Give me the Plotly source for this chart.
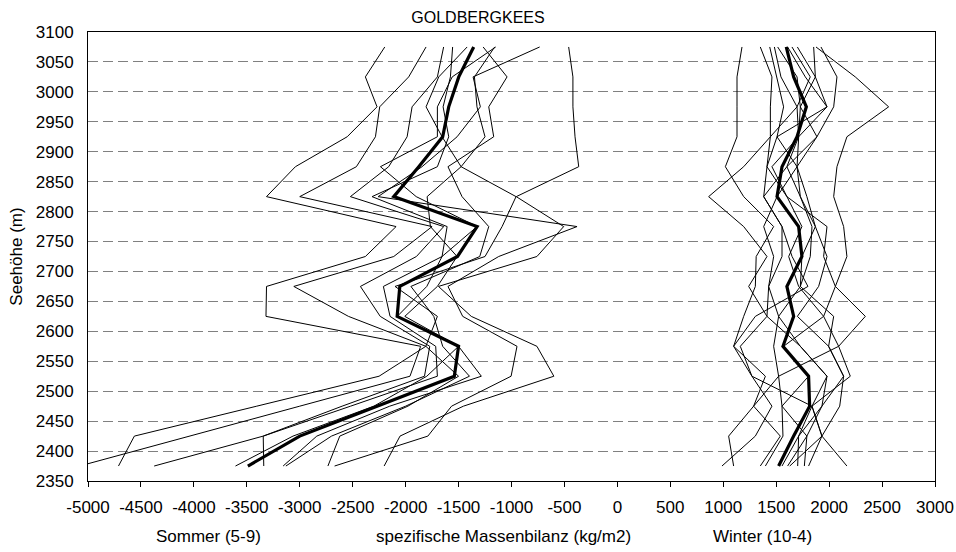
import plotly.graph_objects as go

# elevation band midpoints (m)
levels = [2375, 2425, 2475, 2525, 2575, 2625, 2675, 2725, 2775, 2825, 2875, 2925, 2975, 3025, 3075]

# summer balance profiles (kg/m2), one list per year, bottom -> top
sommer_s1 = [-2203, -2053, -1454, -600, -760, -1380, -1690, -760, -507, -955, -365, -400, -420, -420, -460]
sommer_s2 = [-2671, -1790, -1566, -1004, -948, -1461, -1600, -1121, -381, -2260, -1845, -1514, -1294, -1363, -734]
sommer_s3 = [-5080, -4050, -3000, -1959, -1858, -3319, -3314, -2380, -2090, -3314, -3041, -2552, -2270, -2380, -2197]
sommer_s4 = [-4712, -4562, -3406, -2251, -1809, -2540, -3056, -2112, -1750, -3000, -2465, -2285, -2245, -1971, -1807]
sommer_s5 = [-4375, -3345, -2600, -1822, -1772, -2240, -2427, -1898, -1640, -2522, -2160, -1986, -1939, -1700, -1641]
sommer_s6 = [-3340, -3345, -2520, -1700, -1716, -2147, -2210, -1656, -1608, -2317, -1700, -1593, -1646, -1577, -1556]
sommer_s7 = [-3157, -2839, -2150, -1285, -1500, -2008, -1700, -1514, -1766, -1797, -1476, -1656, -1807, -1687, -1419]
sommer_s8 = [-3131, -2700, -2000, -1397, -1650, -1734, -1950, -1300, -1215, -1467, -1600, -1168, -1215, -1042, -1268]
sommer_s9 = [-2734, -2622, -1978, -1500, -1809, -1700, -2100, -1250, -1089, -957, -1476, -1250, -1326, -1350, -1159]
sommer_s10 = [-3607, -3064, -2300, -1800, -1500, -2079, -1800, -1656, -1325, -1900, -2238, -1700, -1700, -1560, -1149]
sommer_mean = [-3490, -3000, -2270, -1540, -1500, -2080, -2055, -1510, -1325, -2112, -1876, -1650, -1593, -1498, -1357]

# winter balance profiles (kg/m2)
winter_w1 = [1098, 1051, 1287, 1398, 1098, 1193, 1303, 1311, 1476, 1193, 1020, 1130, 1130, 1130, 1177]
winter_w2 = [988, 1303, 1460, 1271, 1161, 1413, 1240, 1413, 1193, 862, 1193, 1445, 1445, 1460, 1350]
winter_w3 = [1350, 1539, 1287, 1523, 1476, 1523, 1429, 1555, 1555, 1382, 1413, 1508, 1570, 1508, 1439]
winter_w4 = [1398, 1564, 1555, 1806, 1570, 1948, 1712, 1618, 1743, 1601, 1460, 1712, 1697, 1545, 1483]
winter_w5 = [1555, 1712, 1838, 1980, 1728, 1523, 1728, 1822, 1838, 1728, 1601, 1885, 1728, 1697, 1514]
winter_w6 = [1608, 1790, 1932, 2137, 1995, 1700, 1901, 1980, 1870, 1790, 1697, 1508, 1980, 1775, 1608]
winter_w7 = [1628, 1932, 1838, 2200, 2090, 2342, 2059, 1948, 1980, 1601, 1413, 1445, 1697, 1822, 1649]
winter_w8 = [1703, 1712, 1932, 1980, 1728, 1413, 1429, 1476, 1382, 1508, 1697, 1712, 1728, 1870, 1854]
winter_w9 = [1766, 1790, 1555, 1523, 2090, 1948, 2059, 2168, 2137, 2043, 2074, 2168, 2562, 2247, 1876]
winter_w10 = [1806, 1932, 2100, 2137, 1995, 2043, 1728, 1743, 1870, 1728, 1697, 1885, 2043, 2074, 1923]
winter_w11 = [2168, 1932, 1838, 1271, 1098, 1303, 1800, 1650, 1555, 1382, 1601, 1712, 1980, 1870, 1700]
winter_mean = [1523, 1665, 1816, 1806, 1564, 1665, 1601, 1743, 1712, 1508, 1555, 1697, 1785, 1665, 1595]

sommer_years = [sommer_s1, sommer_s2, sommer_s3, sommer_s4, sommer_s5, sommer_s6,
                sommer_s7, sommer_s8, sommer_s9, sommer_s10]
winter_years = [winter_w1, winter_w2, winter_w3, winter_w4, winter_w5, winter_w6,
                winter_w7, winter_w8, winter_w9, winter_w10, winter_w11]

x_ticks = list(range(-5000, 3001, 500))
y_ticks = list(range(2350, 3101, 50))

FONT = "Liberation Sans, Arial, sans-serif"
FS = 17

fig = go.Figure()
for vals in sommer_years + winter_years:
    fig.add_trace(go.Scatter(x=vals, y=levels, mode="lines",
                             line=dict(color="black", width=1),
                             showlegend=False, hoverinfo="skip"))
for vals in [sommer_mean, winter_mean]:
    fig.add_trace(go.Scatter(x=vals, y=levels, mode="lines",
                             line=dict(color="black", width=3.2),
                             showlegend=False, hoverinfo="skip"))

fig.update_layout(
    width=956, height=552,
    margin=dict(l=88, r=21, t=32, b=71, autoexpand=False),
    paper_bgcolor="white", plot_bgcolor="white",
    font=dict(family=FONT, size=FS, color="black"),
    title=dict(text="GOLDBERGKEES", x=0.5, xanchor="center",
               y=1 - 17 / 552, yanchor="middle",
               font=dict(family=FONT, size=16, color="black")),
    xaxis=dict(range=[-5000, 3000], tickvals=x_ticks,
               ticktext=[str(v) for v in x_ticks],
               ticks="outside", ticklen=5, tickcolor="black",
               showline=True, linecolor="black", linewidth=1, mirror=True,
               showgrid=False, zeroline=False, automargin=False,
               ticklabelstandoff=6,
               tickfont=dict(family=FONT, size=FS)),
    yaxis=dict(range=[2350, 3100], tickvals=y_ticks,
               ticktext=[str(v) for v in y_ticks],
               ticks="", showline=True, linecolor="black", linewidth=1,
               mirror=True, showgrid=True, gridcolor="#808080",
               griddash="10px,5px", gridwidth=1, zeroline=False,
               automargin=False, ticklabelstandoff=10,
               tickfont=dict(family=FONT, size=FS),
               title=dict(text="Seehöhe (m)", standoff=8,
                          font=dict(family=FONT, size=FS))),
    yaxis2=dict(range=[2350, 3100], tickvals=y_ticks, overlaying="y",
                anchor="free", position=(0 - (-5000)) / 8000, side="left",
                ticks="outside", ticklen=5, tickcolor="black",
                showline=True, linecolor="black", linewidth=1,
                automargin=False,
                showticklabels=False, showgrid=False, zeroline=False),
)

for txt, xp in [("Sommer (5-9)", 0.1417), ("spezifische Massenbilanz (kg/m2)", 0.4905),
                ("Winter (10-4)", 0.796)]:
    fig.add_annotation(text=txt, x=xp, y=-0.1247, xref="paper", yref="paper",
                       xanchor="center", yanchor="middle", showarrow=False,
                       font=dict(family=FONT, size=FS, color="black"))

fig.write_html("out.html",
               config={"displayModeBar": False},
               post_script="document.body.style.margin='0px';document.body.style.padding='0px';")
